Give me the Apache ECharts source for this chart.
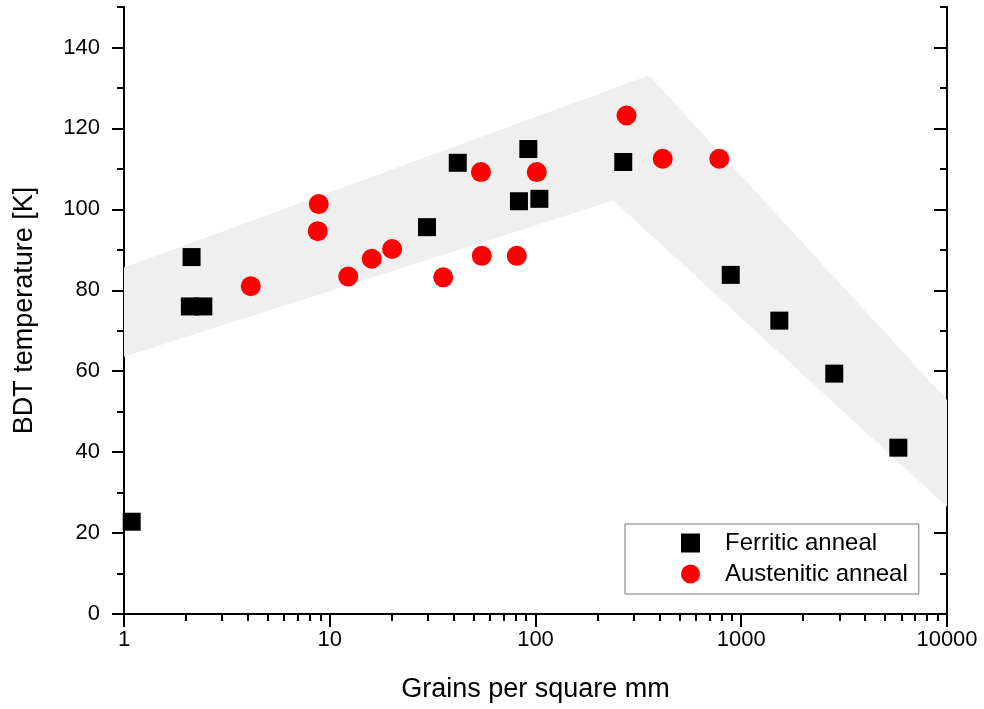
<!DOCTYPE html>
<html>
<head>
<meta charset="utf-8">
<script src="https://cdn.jsdelivr.net/npm/echarts@6/dist/echarts.min.js"></script>
<style>
  html, body { margin: 0; padding: 0; background: #fff; }
  #root { width: 984px; height: 709px; }
</style>
</head>
<body>
<div id="root"></div>
<script>
// 读图估计的数据
const ferriticX = [1.09, 2.13, 2.09, 2.43, 29.7, 41.9, 83.1, 92.3, 104.4, 267, 889, 1531, 2832, 5800];
const ferriticY = [22.8, 88.2, 76.0, 76.0, 95.6, 111.5, 102.0, 114.9, 102.6, 111.7, 83.8, 72.5, 59.4, 41.1];

const austeniticX = [4.13, 8.74, 8.84, 12.3, 16.0, 20.1, 35.6, 54.3, 54.8, 81.1, 101.4, 277, 415, 782];
const austeniticY = [81.0, 94.6, 101.3, 83.4, 87.8, 90.2, 83.2, 109.2, 88.5, 88.5, 109.2, 123.2, 112.5, 112.5];

// 灰色带的多边形顶点
const bandX = [1, 356, 10000, 10000, 239, 1];
const bandY = [85.6, 133.1, 52.9, 26.5, 102.2, 63.6];

const yMajor = [0, 20, 40, 60, 80, 100, 120, 140];
const yMinor = [10, 30, 50, 70, 90, 110, 130, 150];
const xMinor = [];
[1, 10, 100, 1000].forEach(d => {
    for (let k = 2; k <= 9; k++) xMinor.push(d * k);
});

const FONT = 'Liberation Sans, Arial, sans-serif';
const AXIS_COLOR = '#000';

let xBase = function (extra) {
    return Object.assign({
        type: 'log',
        logBase: 10,
        min: 1,
        max: 10000,
        splitLine: { show: false },
        axisLine: { show: false },
        axisLabel: { show: false },
        axisTick: { show: false }
    }, extra);
};
let yBase = function (extra) {
    return Object.assign({
        type: 'value',
        min: 0,
        max: 150,
        interval: 10,
        splitLine: { show: false },
        axisLine: { show: false },
        axisLabel: { show: false },
        axisTick: { show: false }
    }, extra);
};

let chart = echarts.init(document.getElementById('root'));

let option = {
    backgroundColor: '#fff',
    animation: false,
    grid: { left: 124, right: 37, top: 7, bottom: 95 },
    legend: {
        orient: 'vertical',
        left: 625,
        top: 524,
        padding: [7, 11, 8, 56],
        itemWidth: 19,
        itemHeight: 19,
        itemGap: 7,
        borderColor: '#777',
        borderWidth: 1,
        textStyle: { fontFamily: FONT, fontSize: 24, color: '#000', padding: [0, 0, 0, 20] },
        data: [
            { name: 'Ferritic anneal', icon: 'rect' },
            { name: 'Austenitic anneal', icon: 'circle' }
        ]
    },
    xAxis: [
        xBase({
            position: 'bottom',
            name: 'Grains per square mm',
            nameLocation: 'middle',
            nameGap: 62,
            nameTextStyle: { fontFamily: FONT, fontSize: 27, color: '#000' },
            axisLine: { show: true, lineStyle: { color: AXIS_COLOR, width: 2 } },
            axisTick: { show: true, length: 13, lineStyle: { color: AXIS_COLOR, width: 2 } },
            axisLabel: {
                show: true, margin: 15, fontFamily: FONT, fontSize: 22, color: '#000',
                formatter: v => String(Math.round(v))
            }
        }),
        xBase({
            position: 'bottom',
            axisTick: { show: true, length: 7, customValues: xMinor, lineStyle: { color: AXIS_COLOR, width: 2 } }
        }),
        xBase({
            position: 'top',
            axisLine: { show: true, lineStyle: { color: AXIS_COLOR, width: 2 } },
            axisTick: { show: true, inside: true, length: 13, lineStyle: { color: AXIS_COLOR, width: 2 } }
        }),
        xBase({
            position: 'top',
            axisTick: { show: true, inside: true, length: 7, customValues: xMinor, lineStyle: { color: AXIS_COLOR, width: 2 } }
        })
    ],
    yAxis: [
        yBase({
            position: 'left',
            name: 'BDT temperature [K]',
            nameLocation: 'middle',
            nameGap: 86,
            nameTextStyle: { fontFamily: FONT, fontSize: 27, color: '#000' },
            axisLine: { show: true, lineStyle: { color: AXIS_COLOR, width: 2 } },
            axisTick: { show: true, length: 12, customValues: yMajor, lineStyle: { color: AXIS_COLOR, width: 2 } },
            axisLabel: { show: true, margin: 24, customValues: yMajor, fontFamily: FONT, fontSize: 22, color: '#000' }
        }),
        yBase({
            position: 'left',
            axisTick: { show: true, length: 7, customValues: yMinor, lineStyle: { color: AXIS_COLOR, width: 2 } }
        }),
        yBase({
            position: 'right',
            axisLine: { show: true, lineStyle: { color: AXIS_COLOR, width: 2 } },
            axisTick: { show: true, inside: true, length: 13, customValues: yMajor, lineStyle: { color: AXIS_COLOR, width: 2 } }
        }),
        yBase({
            position: 'right',
            axisTick: { show: true, inside: true, length: 7, customValues: yMinor, lineStyle: { color: AXIS_COLOR, width: 2 } }
        })
    ],
    series: [
        {
            type: 'custom',
            name: 'band',
            silent: true,
            z: 1,
            xAxisIndex: 0,
            yAxisIndex: 0,
            data: [[bandX[0], bandY[0]]],
            renderItem: function (params, api) {
                let pts = bandX.map((x, i) => api.coord([x, bandY[i]]));
                return {
                    type: 'polygon',
                    shape: { points: pts },
                    style: { fill: '#efefef' }
                };
            }
        },
        {
            name: 'Ferritic anneal',
            type: 'scatter',
            symbol: 'rect',
            symbolSize: 18,
            z: 3,
            itemStyle: { color: '#000', opacity: 1 },
            data: ferriticX.map((x, i) => [x, ferriticY[i]])
        },
        {
            name: 'Austenitic anneal',
            type: 'scatter',
            symbol: 'circle',
            symbolSize: 20,
            z: 4,
            itemStyle: { color: '#ff0000', opacity: 1 },
            data: austeniticX.map((x, i) => [x, austeniticY[i]])
        }
    ]
};

chart.setOption(option);
</script>
</body>
</html>
